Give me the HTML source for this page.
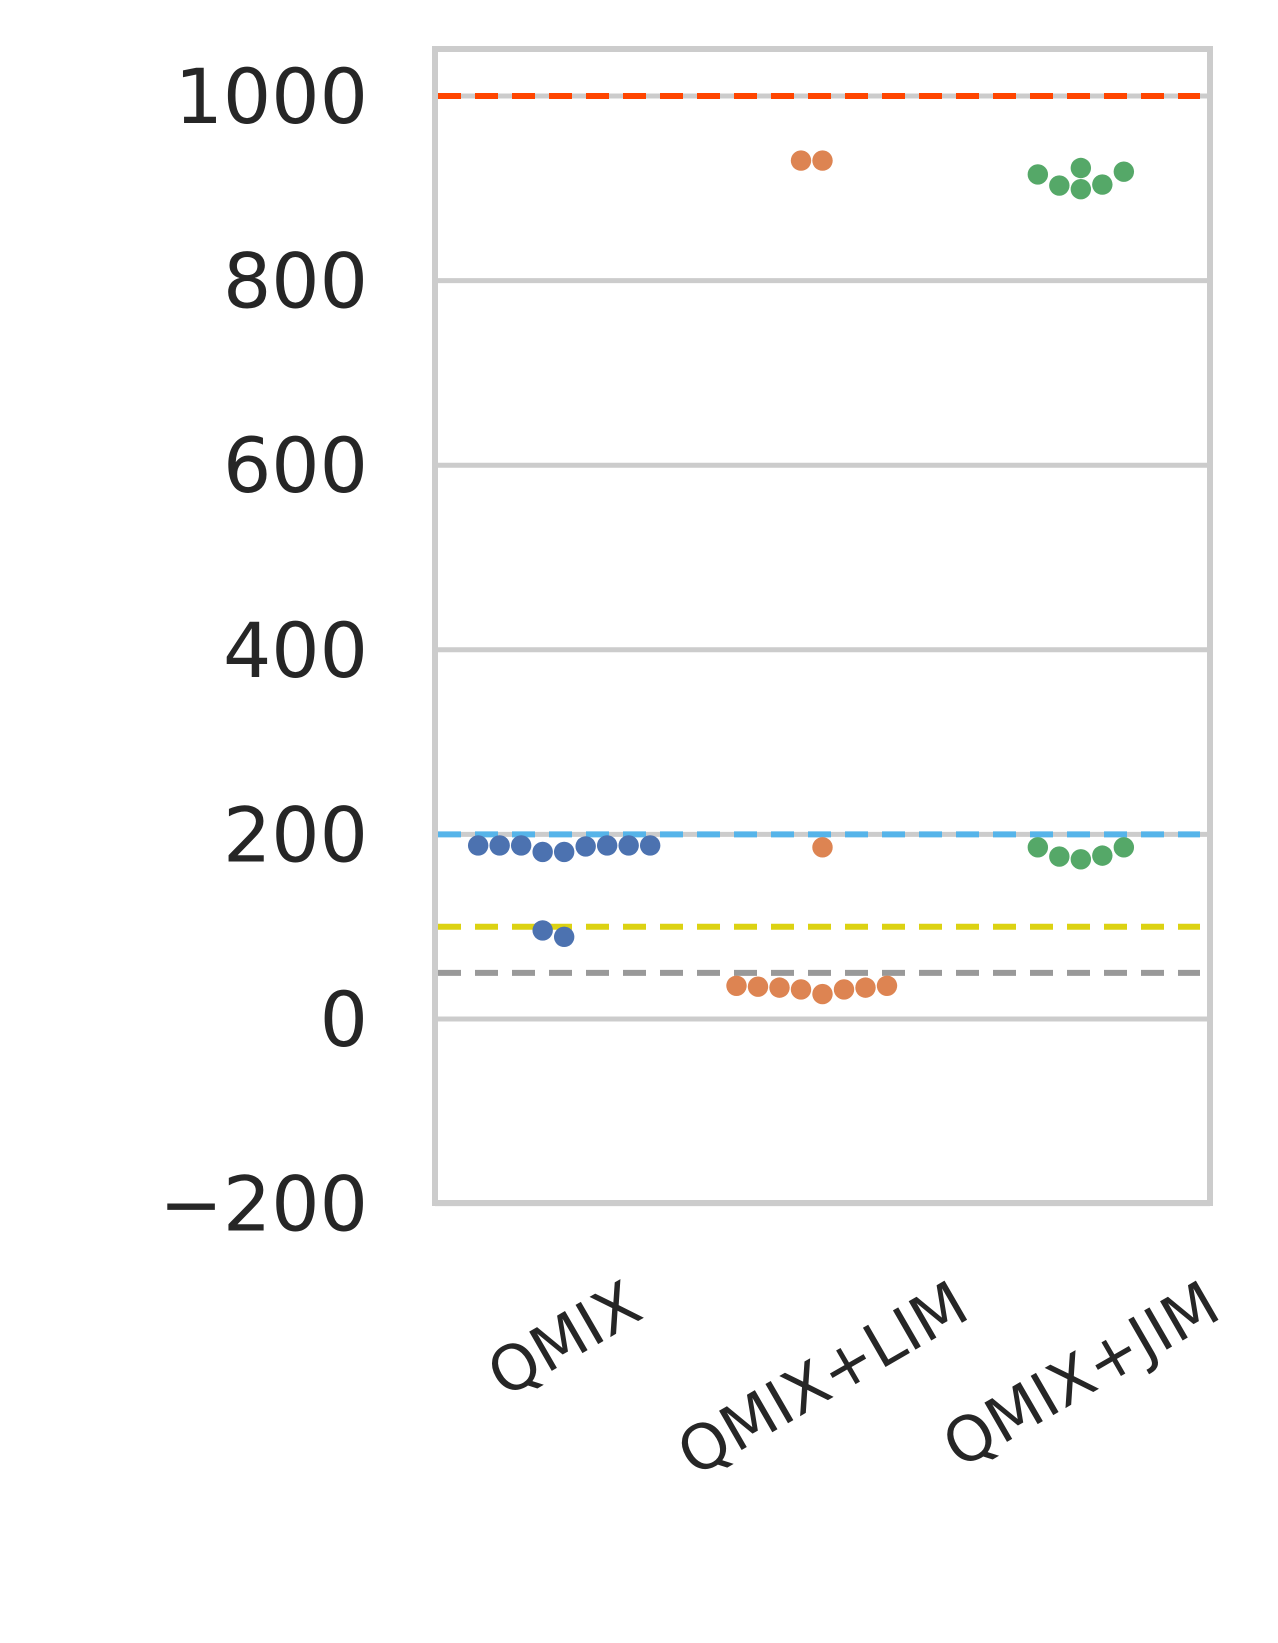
<!DOCTYPE html>
<html><head><meta charset="utf-8"><style>
html,body{margin:0;padding:0;background:#fff;}
svg{display:block;font-family:"DejaVu Sans","Liberation Sans",sans-serif;}
</style></head><body>
<svg id="chart" width="1278" height="1643" viewBox="0 0 1278 1643" xmlns="http://www.w3.org/2000/svg">
<g id="grid"></g>
<g id="refs"></g>
<g id="pts"></g>
<rect x="435" y="49" width="775" height="1154" fill="none" stroke="#cccccc" stroke-width="6"/>
<g id="yt"></g>
<g id="xt"></g>
</svg>
<script>
const categories = ["QMIX", "QMIX+LIM", "QMIX+JIM"];
const qmixValues = [188, 188, 188, 181, 181, 187, 188, 188, 188, 96, 89];
const limValues = [930, 930, 186, 36, 34, 32, 27, 32, 34, 35, 36];
const jimValues = [915, 903, 922, 899, 904, 918, 186, 176, 173, 177, 186];
const yTicks = [-200, 0, 200, 400, 600, 800, 1000];
const refValues = [1000, 200, 100, 50];
const refColors = ["#ff4500", "#56b4e9", "#dcd212", "#999999"];
const seriesColors = ["#4c72b0", "#dd8452", "#55a868"];

const NS = "http://www.w3.org/2000/svg";
const L = 435, R = 1210;
const yScale = v => 1019 - (v / 200) * 184.6;
const xScale = i => L + (i + 0.5) * (R - L) / categories.length;
function mk(t, a, p) { const e = document.createElementNS(NS, t); for (const k in a) e.setAttribute(k, a[k]); p.appendChild(e); return e; }

const grid = document.getElementById('grid');
const yt = document.getElementById('yt');
yTicks.forEach(v => {
  const g = mk('line', {x1: L, x2: R, y1: yScale(v), y2: yScale(v), stroke: '#cccccc', 'stroke-width': 5}, grid);
  
  
  const t = mk('text', {x: 368, y: yScale(v) + 27, 'text-anchor': 'end', 'font-size': 76, fill: '#262626'}, yt);
  t.textContent = v < 0 ? '\u2212' + Math.abs(v) : String(v);
  
  
});

const refs = document.getElementById('refs');
refValues.forEach((v, i) => {
  const l = mk('line', {x1: 438, x2: 1200, y1: yScale(v), y2: yScale(v), stroke: refColors[i], 'stroke-width': 6, 'stroke-dasharray': '23 14'}, refs);
  
  
});

const pts = document.getElementById('pts');
const D = 21.5, RAD = 10.2;
[qmixValues, limValues, jimValues].forEach((vals, ci) => {
  const cx = xScale(ci);
  const sorted = vals.map(v => yScale(v)).sort((a, b) => b - a);
  const placed = [];
  sorted.forEach(y => {
    let best = null;
    for (let k = 0; k < 40 && best === null; k++) {
      let cands = [0];
      if (k > 0) {
        const nl = placed.filter(p => p[0] < cx - 1 && Math.abs(p[1] - y) < D).length;
        const nr = placed.filter(p => p[0] > cx + 1 && Math.abs(p[1] - y) < D).length;
        cands = nr < nl ? [k, -k] : [-k, k];
      }
      for (const s of cands) {
        const x = cx + s * D / 2;
        if (placed.every(p => Math.hypot(p[0] - x, p[1] - y) >= D - 0.5)) { best = x; break; }
      }
    }
    placed.push([best, y]);
  });
  placed.forEach(p => {
    const c = mk('circle', {cx: p[0], cy: p[1], r: RAD, fill: seriesColors[ci]}, pts);
    
    
  });
});

const xt = document.getElementById('xt');
categories.forEach((c, i) => {
  const t = mk('text', {'text-anchor': 'middle', 'dominant-baseline': 'central', 'font-size': 62, fill: '#262626'}, xt);
  t.textContent = c;
  
  
  const w = t.getComputedTextLength();
  const h = 62 * 0.9;
  const cy = 1274 + (w * 0.5 + h * 0.866) / 2;
  const cx = xScale(i);
  t.setAttribute('x', cx);
  t.setAttribute('y', cy);
  t.setAttribute('transform', 'rotate(-30 ' + cx + ' ' + cy + ')');
});
</script>
</body></html>
